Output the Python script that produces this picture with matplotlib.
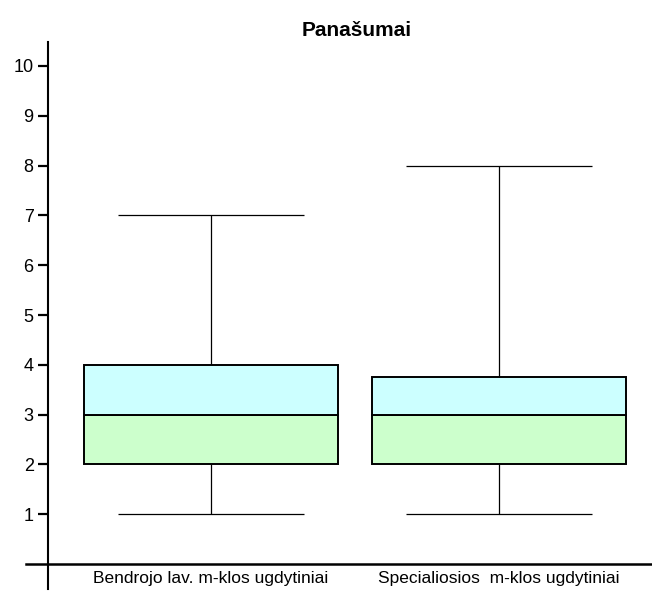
import matplotlib
matplotlib.use("Agg")
import matplotlib.pyplot as plt

categories = ["Bendrojo lav. m-klos ugdytiniai", "Specialiosios  m-klos ugdytiniai"]
whisker_low = [1, 1]
q1 = [2, 2]
median = [3, 3]
q3 = [4, 3.75]
whisker_high = [7, 8]
yticks = [1, 2, 3, 4, 5, 6, 7, 8, 9, 10]
title = "Panašumai"

plt.rcParams['font.family'] = ['Liberation Sans', 'DejaVu Sans']

fig = plt.figure(figsize=(6.52, 6.15), dpi=100)
ax = fig.add_axes([26/652, 26/615, 1 - 26/652, (589-42)/615])

pos = [1, 2]
bw = 0.882
cw = 0.646
for i, x in enumerate(pos):
    ax.vlines(x, q3[i], whisker_high[i], color='black', lw=0.9, zorder=2)
    ax.vlines(x, whisker_low[i], q1[i], color='black', lw=0.9, zorder=2)
    ax.hlines([whisker_low[i], whisker_high[i]], x - cw/2, x + cw/2, color='black', lw=0.9, zorder=2)
    ax.bar(x, median[i] - q1[i], bottom=q1[i], width=bw, color='#CCFFCC',
           edgecolor='black', lw=1.4, zorder=3)
    ax.bar(x, q3[i] - median[i], bottom=median[i], width=bw, color='#CCFFFF',
           edgecolor='black', lw=1.4, zorder=3)

ax.set_xlim(0.358, 2.531)
ax.set_ylim(-0.5, 10.48)
ax.spines['left'].set_position(('data', 0.434))
ax.spines['bottom'].set_position(('data', 0))
ax.spines['top'].set_visible(False)
ax.spines['right'].set_visible(False)
ax.spines['left'].set_linewidth(1.5)
ax.spines['bottom'].set_linewidth(1.8)

ax.set_yticks(yticks)
ax.set_yticklabels([str(v) for v in yticks], fontsize=13)
ax.tick_params(axis='y', direction='out', length=7.2, width=1.6, pad=3)
ax.set_xticks(pos)
ax.set_xticklabels(categories, fontsize=12.5)
ax.tick_params(axis='x', length=0, pad=5)

fig.text(357/652, 1 - 30/615, title, ha='center', va='center', fontsize=15, fontweight='bold')

fig.savefig("out.png", dpi=100)
